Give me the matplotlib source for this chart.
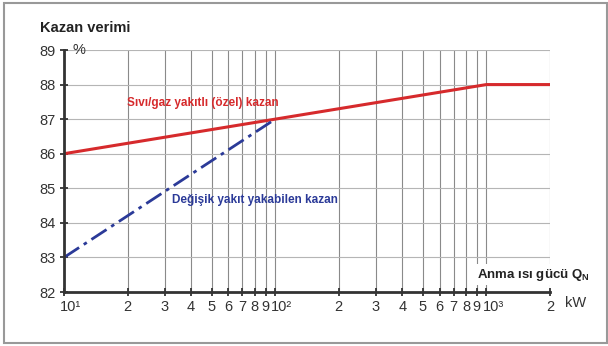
import matplotlib
matplotlib.use("Agg")
import matplotlib.pyplot as plt
import matplotlib.transforms as mtransforms
from matplotlib.patches import Rectangle

plt.rcParams['font.family'] = ['Liberation Sans', 'DejaVu Sans']
plt.rcParams['mathtext.fontset'] = 'custom'
plt.rcParams['mathtext.bf'] = 'Liberation Sans:bold'
plt.rcParams['mathtext.rm'] = 'Liberation Sans'

# Boiler efficiency vs. rated heat output
oil_gas_kw = [10, 1000, 2000]
oil_gas_eff = [86, 88, 88]
multi_fuel_kw = [10, 100]
multi_fuel_eff = [83, 87]

y_ticks = [82, 83, 84, 85, 86, 87, 88, 89]
x_ticks = [10, 20, 30, 40, 50, 60, 70, 80, 90, 100,
           200, 300, 400, 500, 600, 700, 800, 900, 1000, 2000]
x_tick_labels = ['10¹', '2', '3', '4', '5', '6', '7', '8', '9', '10²',
                 '2', '3', '4', '5', '6', '7', '8', '9', '10³', '2']

red = '#d62a2c'
blue = '#2b3a98'
dark = '#333333'

fig = plt.figure(figsize=(6.08, 3.46), dpi=100)
ax = fig.add_axes([64/608, 1-292/346, 486/608, 242/346])

ax.set_xscale('log')
ax.set_xlim(10, 2000)
ax.set_ylim(82, 89)

# grid
for x in x_ticks:
    ax.axvline(x, color='#8a8a8a', lw=0.8, zorder=1)
for y in y_ticks[1:]:
    ax.axhline(y, color='#b5b5b5', lw=0.8, zorder=1)

ax.plot(oil_gas_kw, oil_gas_eff, color=red, lw=2.2, zorder=4, solid_capstyle='butt')
ax.plot(multi_fuel_kw, multi_fuel_eff, color=blue, lw=2.0, zorder=4,
        linestyle=(0, (6.5, 2.0, 1.3, 2.0)))

ax.set_yticks(y_ticks)
ax.set_xticks(x_ticks)
ax.set_xticklabels(x_tick_labels)
ax.xaxis.set_minor_locator(matplotlib.ticker.NullLocator())
ax.tick_params(axis='both', direction='inout', length=6, width=1.3,
               colors=dark, labelsize=10.5, labelcolor=dark)
ax.tick_params(axis='x', pad=3)
ax.tick_params(axis='y', pad=3)

# decade labels start near the tick so the exponent sits to its right
shift = mtransforms.ScaledTranslation(-4/100, 0, fig.dpi_scale_trans)
for lbl in ax.get_xticklabels():
    if lbl.get_text().startswith('10'):
        lbl.set_horizontalalignment('left')
        lbl.set_transform(lbl.get_transform() + shift)

for s in ['top', 'right']:
    ax.spines[s].set_visible(False)
for s in ['left', 'bottom']:
    ax.spines[s].set_linewidth(2)
    ax.spines[s].set_color(dark)
ax.spines['left'].set_zorder(5)
ax.spines['bottom'].set_zorder(5)

ax.text(11.0, 89, '%', fontsize=10.5, color=dark, ha='left', va='center')
ax.text(19.8, 87.47, 'Sıvı/gaz yakıtlı (özel) kazan', fontsize=8.5,
        fontweight='bold', color=red, ha='left', va='center', zorder=6)
ax.text(32.3, 84.66, 'Değişik yakıt yakabilen kazan', fontsize=8.5,
        fontweight='bold', color=blue, ha='left', va='center', zorder=6)

ax.text(900, 82.5, r'Anma ısı gücü $\mathbf{Q}_\mathbf{N}$',
        fontsize=9.5, fontweight='bold', color='#222222', ha='left', va='center',
        zorder=6, clip_on=False,
        bbox=dict(facecolor='white', edgecolor='none', pad=2))

fig.text(40/608, 1-28/346, 'Kazan verimi', fontsize=10.5, fontweight='bold',
         color='#222222', ha='left', va='center')
fig.text(565/608, 1-303/346, 'kW', fontsize=10.5, color=dark, ha='left', va='center')

fig.add_artist(Rectangle((4/608, 3/346), 603/608, 340/346, transform=fig.transFigure,
                         fill=False, edgecolor='#999999', lw=1.5))

fig.savefig('out.png', dpi=100)
